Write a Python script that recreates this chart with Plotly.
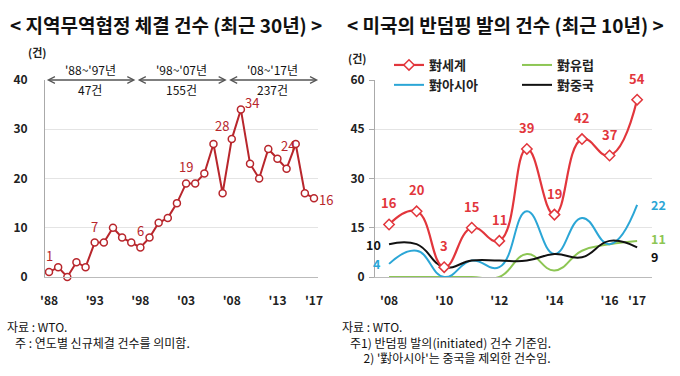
import plotly.graph_objects as go

# ---- Left chart data: regional trade agreements (1988-2017)
rta_years = list(range(1988, 2018))
rta_counts = [1, 2, 0, 3, 2, 7, 7, 10, 8, 7,
              6, 8, 11, 12, 15, 19, 19, 21, 27, 17,
              28, 34, 23, 20, 26, 24, 22, 27, 17, 16]
rta_labeled_years = [1988, 1993, 1998, 2003, 2008, 2009, 2013, 2017]
rta_ticks = [1988, 1993, 1998, 2003, 2008, 2013, 2017]
rta_ticktext = ["'88", "'93", "'98", "'03", "'08", "'13", "'17"]
period_ranges = [(1987.6, 1997.45), (1997.55, 2007.45), (2007.55, 2017.45)]
period_names = ["'88~'97년", "'98~'07년", "'08~'17년"]
period_totals = ["47건", "155건", "237건"]

# ---- Right chart data: US anti-dumping initiations (2008-2017)
ad_years = list(range(2008, 2018))
ad_world = [16, 20, 3, 15, 11, 39, 19, 42, 37, 54]
ad_europe = [0, 0, 0, 0, 0, 7, 2, 8, 10, 11]
ad_asia = [4, 8, 0, 5, 3, 20, 7, 18, 10, 22]
ad_china = [10, 10, 3, 5, 5, 5, 7, 6, 11, 9]
ad_ticks = [2008, 2010, 2012, 2014, 2016, 2017]
ad_ticktext = ["'08", "'10", "'12", "'14", "'16", "'17"]

FONT = "Noto Sans CJK KR"
DARKRED = "#b8262c"
RED = "#e2363c"
BLUE = "#2ba6d6"
GREEN = "#8dc654"
BLACK = "#111111"
SMOOTH = 1.3

fig = go.Figure()

# Left chart line
fig.add_trace(go.Scatter(
    x=rta_years, y=rta_counts, mode="lines+markers",
    line=dict(color=DARKRED, width=2),
    marker=dict(symbol="circle", size=7, color="white",
                line=dict(color=DARKRED, width=1.5)),
    showlegend=False, xaxis="x", yaxis="y", cliponaxis=False))

# Right chart lines
fig.add_trace(go.Scatter(
    x=ad_years, y=ad_europe, mode="lines", name="對유럽",
    line=dict(color=GREEN, width=2, shape="spline", smoothing=SMOOTH),
    xaxis="x2", yaxis="y2", legend="legend2"))
fig.add_trace(go.Scatter(
    x=ad_years, y=ad_asia, mode="lines", name="對아시아",
    line=dict(color=BLUE, width=2, shape="spline", smoothing=SMOOTH),
    xaxis="x2", yaxis="y2", legend="legend"))
fig.add_trace(go.Scatter(
    x=ad_years, y=ad_china, mode="lines", name="對중국",
    line=dict(color=BLACK, width=2, shape="spline", smoothing=SMOOTH),
    xaxis="x2", yaxis="y2", legend="legend2"))
fig.add_trace(go.Scatter(
    x=ad_years, y=ad_world, mode="lines+markers", name="對세계",
    line=dict(color=RED, width=2.2, shape="spline", smoothing=SMOOTH),
    marker=dict(symbol="diamond", size=8, color="white",
                line=dict(color=RED, width=1.5)),
    xaxis="x2", yaxis="y2", legend="legend", cliponaxis=False))

annotations = []

# Left chart value labels
for yr in rta_labeled_years:
    v = rta_counts[rta_years.index(yr)]
    if yr == 2008:
        xa, ya, xs, ys = "right", "bottom", -1, 2
    elif yr == 2009:
        xa, ya, xs, ys = "left", "middle", 2, 7
    elif yr == 2013:
        xa, ya, xs, ys = "left", "bottom", 2, 2
    elif yr == 2017:
        xa, ya, xs, ys = "left", "middle", 3, -1
    else:
        xa, ya, xs, ys = "center", "bottom", 0, 5
    annotations.append(dict(x=yr, y=v, xref="x", yref="y", text=str(v),
                            showarrow=False, xanchor=xa, yanchor=ya,
                            xshift=xs, yshift=ys,
                            font=dict(family=FONT, size=13, color=DARKRED)))

# Period arrows
for (x0, x1), nm, tot in zip(period_ranges, period_names, period_totals):
    annotations.append(dict(x=x1, y=40, ax=x0, ay=40, xref="x", yref="y",
                            axref="x", ayref="y", text="", showarrow=True,
                            arrowhead=5, startarrowhead=5, arrowside="end+start",
                            arrowsize=1, arrowwidth=1.3, arrowcolor="#555555",
                            startarrowsize=1))
    xm = (x0 + x1) / 2
    annotations.append(dict(x=xm, y=40, xref="x", yref="y", text=nm,
                            showarrow=False, yanchor="bottom", yshift=0,
                            font=dict(family=FONT, size=12, color="#111111")))
    annotations.append(dict(x=xm, y=40, xref="x", yref="y", text=tot,
                            showarrow=False, yanchor="top", yshift=1,
                            font=dict(family=FONT, size=12, color="#111111")))

# Right chart value labels (world)
for yr, v in zip(ad_years, ad_world):
    annotations.append(dict(x=yr, y=v, xref="x2", yref="y2", text=str(v),
                            showarrow=False, yanchor="bottom", yshift=10,
                            font=dict(family=FONT, size=13, color=RED, weight="bold")))
# End / start labels
end_labels = [
    (2017, ad_asia[-1], BLUE, "left", 12, 0),
    (2017, ad_europe[-1], GREEN, "left", 12, 2),
    (2017, ad_china[-1], BLACK, "left", 12, -9),
    (2008, ad_china[0], BLACK, "right", -6, 0),
    (2008, ad_asia[0], BLUE, "right", -6, 0),
]
for yr, v, c, xa, xs, ys in end_labels:
    annotations.append(dict(x=yr, y=v, xref="x2", yref="y2", text=str(v),
                            showarrow=False, xanchor=xa, xshift=xs, yshift=ys,
                            font=dict(family=FONT, size=12.5, color=c, weight="bold")))

# Titles, unit labels
annotations += [
    dict(x=8 / 680, y=1 - 25 / 376, xref="paper", yref="paper", xanchor="left",
         yanchor="middle", text="< 지역무역협정 체결 건수 (최근 30년) >", showarrow=False,
         font=dict(family=FONT, size=19, color="#111111", weight="bold")),
    dict(x=345 / 680, y=1 - 25 / 376, xref="paper", yref="paper", xanchor="left",
         yanchor="middle", text="< 미국의 반덤핑 발의 건수 (최근 10년) >", showarrow=False,
         font=dict(family=FONT, size=19, color="#111111", weight="bold")),
    dict(x=26 / 680, y=1 - 52 / 376, xref="paper", yref="paper", yanchor="middle",
         text="(건)", showarrow=False,
         font=dict(family=FONT, size=11, color="#222222", weight="bold")),
    dict(x=357 / 680, y=1 - 58 / 376, xref="paper", yref="paper", yanchor="middle",
         text="(건)", showarrow=False,
         font=dict(family=FONT, size=11, color="#222222", weight="bold")),
    dict(x=5 / 680, y=1 - 316 / 376, xref="paper", yref="paper", xanchor="left",
         yanchor="top", align="left", showarrow=False,
         text="자료 : WTO.<br>   주 : 연도별 신규체결 건수를 의미함.",
         font=dict(family=FONT, size=12, color="#111111")),
    dict(x=340 / 680, y=1 - 316 / 376, xref="paper", yref="paper", xanchor="left",
         yanchor="top", align="left", showarrow=False,
         text="자료 : WTO.<br>   주1) 반덤핑 발의(initiated) 건수 기준임.<br>"
              "        2) '對아시아'는 중국을 제외한 건수임.",
         font=dict(family=FONT, size=12, color="#111111")),
]

axis_font = dict(family=FONT, size=12, color="#222222", weight="bold")
fig.update_layout(
    width=680, height=376,
    margin=dict(l=0, r=0, t=0, b=0, autoexpand=False),
    paper_bgcolor="white", plot_bgcolor="white",
    xaxis=dict(domain=[45 / 680, 318 / 680], range=[1987.56, 2017.44],
               tickvals=rta_ticks, ticktext=rta_ticktext, showgrid=False,
               showline=True, linecolor="#bbbbbb", ticks="", tickfont=axis_font,
               zeroline=False, anchor="y", ticklabelstandoff=13),
    yaxis=dict(domain=[1 - 277 / 376, 1 - 80 / 376], range=[0, 40],
               tickvals=[0, 10, 20, 30, 40], showgrid=True, gridcolor="#e4e4e4",
               showline=True, linecolor="#aaaaaa", ticks="", tickfont=axis_font,
               zeroline=False, anchor="x", ticklabelstandoff=14),
    xaxis2=dict(domain=[375 / 680, 652 / 680], range=[2007.49, 2017.54],
                tickvals=ad_ticks, ticktext=ad_ticktext, showgrid=False,
                showline=True, linecolor="#bbbbbb", ticks="", tickfont=axis_font,
                zeroline=False, anchor="y2", ticklabelstandoff=13),
    yaxis2=dict(domain=[1 - 277 / 376, 1 - 80 / 376], range=[0, 60],
                tickvals=[0, 15, 30, 45, 60], showgrid=True, gridcolor="#e4e4e4",
                showline=True, linecolor="#aaaaaa", ticks="outside", ticklen=5,
                tickcolor="#aaaaaa", tickfont=axis_font, zeroline=False,
                anchor="x2", ticklabelstandoff=2),
    legend=dict(x=389 / 680, y=1 - 50 / 376, xanchor="left", yanchor="top",
                bgcolor="rgba(0,0,0,0)", tracegroupgap=0, itemwidth=30,
                font=dict(family=FONT, size=13, color="#222222", weight="bold"),
                traceorder="reversed"),
    legend2=dict(x=517 / 680, y=1 - 50 / 376, xanchor="left", yanchor="top",
                 bgcolor="rgba(0,0,0,0)", tracegroupgap=0, itemwidth=30,
                 font=dict(family=FONT, size=13, color="#222222", weight="bold")),
    annotations=annotations,
)

fig.write_html("out.html", config={"displayModeBar": False},
               post_script="document.body.style.margin='0';")
